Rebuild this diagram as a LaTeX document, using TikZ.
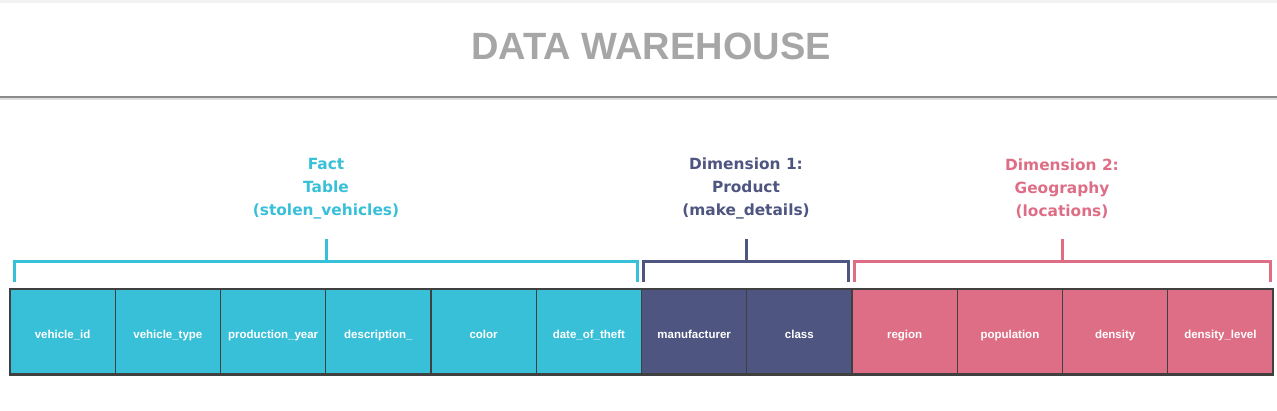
\documentclass[tikz,border=0pt]{standalone}
\usepackage{fontspec}
\setmainfont{Liberation Sans}
\newfontfamily\labelfont{DejaVu Sans}
\usetikzlibrary{positioning}

\definecolor{factcol}{HTML}{38C0D8}
\definecolor{dimonecol}{HTML}{4E5580}
\definecolor{dimtwocol}{HTML}{DE6E85}
\definecolor{titlegrey}{HTML}{A6A6A6}
\definecolor{edgegrey}{HTML}{404040}

\begin{document}
\begin{tikzpicture}[
    x=1pt, y=-1pt,
    cell/.style={minimum width=105.25pt, minimum height=86pt, inner sep=0pt, outer sep=0pt,
        text height=14pt, text depth=0pt,
        draw=edgegrey, line width=1.2pt, text=white, font=\fontsize{11.5}{13}\selectfont\bfseries},
    bracket/.style={line width=3pt},
    grouplab/.style={align=center, inner sep=0pt, font=\labelfont\fontsize{15.4}{23}\selectfont\bfseries},
]
\useasboundingbox (0,0) rectangle (1277,411);

% Header band
\fill[black!5] (0,0) rectangle (1277,3);
\fill[white] (0,3) rectangle (1277,96);
\draw[black!45, line width=2pt] (0,97) -- (1277,97);
\draw[black!12, line width=2pt] (0,99) -- (1277,99);
\node[font=\fontsize{38}{40}\selectfont\bfseries, text=titlegrey] (title) at (651,46) {DATA WAREHOUSE};

% Cells
\node[cell, fill=factcol, anchor=north west] (c1) at (10,289) {vehicle\_id};
\node[cell, fill=factcol, right=0pt of c1] (c2) {vehicle\_type};
\node[cell, fill=factcol, right=0pt of c2] (c3) {production\_year};
\node[cell, fill=factcol, right=0pt of c3] (c4) {description\_};
\node[cell, fill=factcol, right=0pt of c4] (c5) {color};
\node[cell, fill=factcol, right=0pt of c5] (c6) {date\_of\_theft};
\node[cell, fill=dimonecol, right=0pt of c6] (c7) {manufacturer};
\node[cell, fill=dimonecol, right=0pt of c7] (c8) {class};
\node[cell, fill=dimtwocol, right=0pt of c8] (c9) {region};
\node[cell, fill=dimtwocol, right=0pt of c9] (c10) {population};
\node[cell, fill=dimtwocol, right=0pt of c10] (c11) {density};
\node[cell, fill=dimtwocol, right=0pt of c11] (c12) {density\_level};

% Outer border (thicker bottom)
\draw[edgegrey, line width=2pt] (c1.north west) rectangle (c12.south east);
\draw[edgegrey, line width=3pt] (c1.south west) -- (c12.south east);

% Brackets
\coordinate (factL) at (14,282);
\coordinate (factR) at (637,282);
\coordinate (factTop) at (326,239);
\coordinate (dimoneL) at (643,282);
\coordinate (dimoneR) at (848,282);
\coordinate (dimoneTop) at (746,239);
\coordinate (dimtwoL) at (854,282);
\coordinate (dimtwoR) at (1270,282);
\coordinate (dimtwoTop) at (1062,239);

\draw[bracket, factcol] (factL) -- ++(0,-20) -| (factR);
\draw[bracket, factcol] (factTop) -- ++(0,23);
\draw[bracket, dimonecol] (dimoneL) -- ++(0,-20) -| (dimoneR);
\draw[bracket, dimonecol] (dimoneTop) -- ++(0,23);
\draw[bracket, dimtwocol] (dimtwoL) -- ++(0,-20) -| (dimtwoR);
\draw[bracket, dimtwocol] (dimtwoTop) -- ++(0,23);

% Group labels
\node[grouplab, text=factcol, above=20pt of factTop] (factlab) {Fact\\Table\\(stolen\_vehicles)};
\node[grouplab, text=dimonecol, above=20pt of dimoneTop] (dimonelab) {Dimension 1:\\Product\\(make\_details)};
\node[grouplab, text=dimtwocol, above=20pt of dimtwoTop] (dimtwolab) {Dimension 2:\\Geography\\(locations)};
\end{tikzpicture}
\end{document}
